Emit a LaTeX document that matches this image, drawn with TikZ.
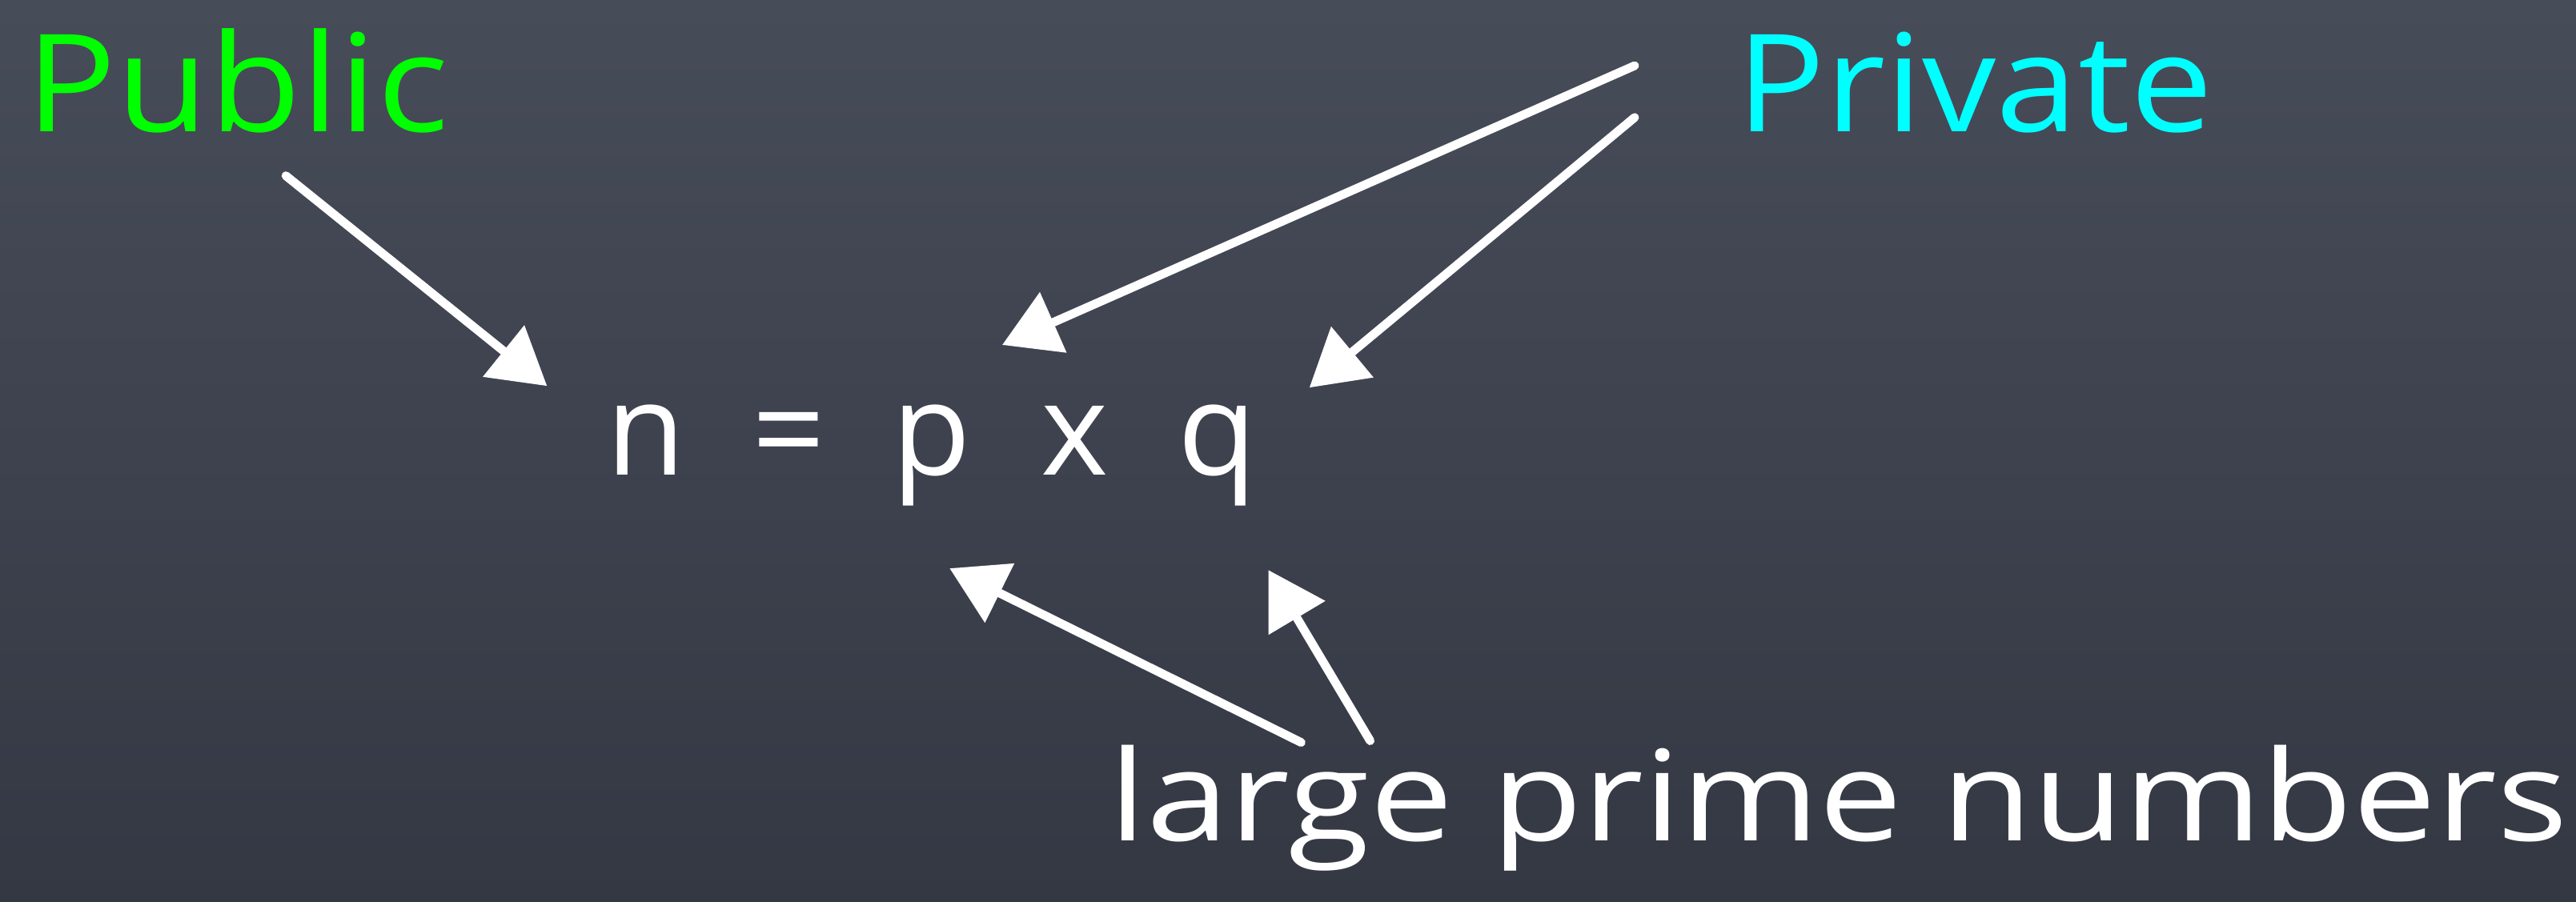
\documentclass[tikz,border=0pt]{standalone}
\usepackage{fontspec}
\setmainfont{Open Sans}
\usetikzlibrary{arrows.meta}
\definecolor{boardtop}{HTML}{474C59}
\definecolor{boardbot}{HTML}{343843}
\definecolor{chalkgreen}{HTML}{00FF00}
\definecolor{chalkcyan}{HTML}{00FFFF}
\tikzset{
  chalkarrow/.style={draw=white, line width=3pt, line cap=round,
    -{Triangle[length=0.68cm, width=0.78cm]}},
  chalktext/.style={inner sep=0pt, outer sep=0pt, anchor=base west},
}
\begin{document}
\begin{tikzpicture}
\shade[top color=boardtop, bottom color=boardbot] (0,0) rectangle (31.36,-10.98);
\useasboundingbox (0,0) rectangle (31.36,-10.98);

% labels
\node[chalktext, text=chalkgreen] (public) at (0.32,-1.60)
  {\resizebox{5.14cm}{1.18cm}{\smash{Public}\vphantom{P}}};
\node[chalktext, text=chalkcyan] (private) at (21.14,-1.60)
  {\resizebox{5.80cm}{1.18cm}{\smash{Private}\vphantom{P}}};
\node[chalktext, text=white] (eq) at (6.99,-5.78)
  {\fontsize{44.6pt}{50pt}\selectfont
   \makebox[1.74cm]{n}\makebox[1.74cm]{=}\makebox[1.74cm]{p}\makebox[1.74cm]{x}\makebox[1.74cm]{q}};
\node[chalktext, text=white] (primes) at (13.50,-10.24)
  {\resizebox{17.76cm}{0.82cm}{\smash{large prime numbers}\vphantom{x}}};

% arrow end points
\coordinate (pubT) at (3.48,-2.14);
\coordinate (pubH) at (6.66,-4.70);
\coordinate (prAT) at (19.90,-0.80);
\coordinate (prAH) at (12.20,-4.20);
\coordinate (prBT) at (19.90,-1.43);
\coordinate (prBH) at (15.94,-4.72);
\coordinate (lpAT) at (15.84,-9.04);
\coordinate (lpAH) at (11.56,-6.92);
\coordinate (lpBT) at (16.68,-9.02);
\coordinate (lpBH) at (15.44,-6.94);

\draw[chalkarrow] (pubT) -- (pubH);
\draw[chalkarrow] (prAT) -- (prAH);
\draw[chalkarrow] (prBT) -- (prBH);
\draw[chalkarrow] (lpAT) -- (lpAH);
\draw[chalkarrow] (lpBT) -- (lpBH);
\end{tikzpicture}
\end{document}
